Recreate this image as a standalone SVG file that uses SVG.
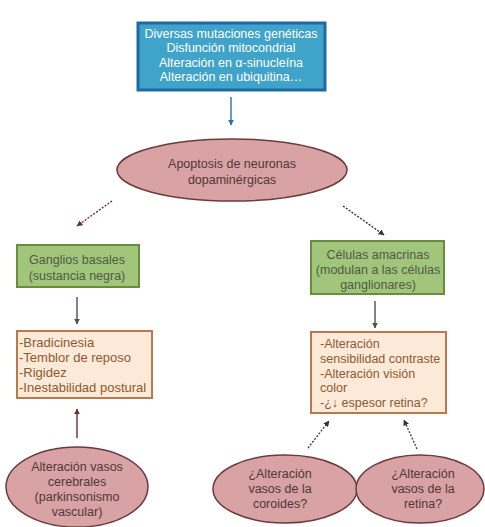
<svg xmlns="http://www.w3.org/2000/svg" width="485" height="527" viewBox="0 0 485 527">
<defs>
<style>
text{font-family:"Liberation Sans",Arial,sans-serif;font-size:12.5px}
.blue rect{fill:#40a3c9;stroke:#1f6aa5;stroke-width:3}
.blue text{fill:#ffffff;text-anchor:middle}
.pink ellipse{fill:#d9a2a5;stroke:#6b3b3b;stroke-width:1.5}
.pink text{fill:#4e3838;text-anchor:middle}
.green rect{fill:#a2c57c;stroke:#6b8c3e;stroke-width:2}
.green text{fill:#4f5a45;text-anchor:middle}
.orange rect{fill:#fde9d8;stroke:#b87a4a;stroke-width:2}
.orange text{fill:#8a5a30}
.c line{stroke-width:1.4;fill:none}
</style>
<marker id="ab" viewBox="0 0 10 10" refX="9" refY="5" markerWidth="6" markerHeight="6" orient="auto" markerUnits="userSpaceOnUse"><path d="M0,0L10,5L0,10z" fill="#2e6fb0"/></marker>
<marker id="ar" viewBox="0 0 10 10" refX="9" refY="5" markerWidth="6" markerHeight="6" orient="auto" markerUnits="userSpaceOnUse"><path d="M0,0L10,5L0,10z" fill="#6b2e2e"/></marker>
<marker id="ak" viewBox="0 0 10 10" refX="9" refY="5" markerWidth="6" markerHeight="6" orient="auto" markerUnits="userSpaceOnUse"><path d="M0,0L10,5L0,10z" fill="#333333"/></marker>
<marker id="ag" viewBox="0 0 10 10" refX="9" refY="5" markerWidth="6" markerHeight="6" orient="auto" markerUnits="userSpaceOnUse"><path d="M0,0L10,5L0,10z" fill="#4a5440"/></marker>
</defs>
<rect width="485" height="527" fill="#ffffff"/>

<g class="c" id="connectors">
<line x1="231" y1="97" x2="231" y2="125" stroke="#2e6fb0" marker-end="url(#ab)"/>
<line x1="112" y1="201" x2="77" y2="226" stroke="#6b2e2e" stroke-dasharray="2,1.5" marker-end="url(#ar)"/>
<line x1="343" y1="206" x2="384" y2="235" stroke="#333333" stroke-dasharray="2,1.5" marker-end="url(#ak)"/>
<line x1="77" y1="297" x2="77" y2="324" stroke="#4a5440" marker-end="url(#ag)"/>
<line x1="375" y1="301" x2="375" y2="328" stroke="#4a5440" marker-end="url(#ag)"/>
<line x1="77" y1="438" x2="77" y2="409" stroke="#6b2e2e" marker-end="url(#ar)"/>
<line x1="308" y1="448" x2="329" y2="421" stroke="#444444" stroke-dasharray="2,1.5" marker-end="url(#ak)"/>
<line x1="417" y1="449" x2="404" y2="420" stroke="#444444" stroke-dasharray="2,1.5" marker-end="url(#ak)"/>
</g>

<g id="causes" class="blue">
<rect x="138" y="23" width="187" height="67"/>
<text x="231" y="38">Diversas mutaciones genéticas</text>
<text x="231" y="52">Disfunción mitocondrial</text>
<text x="231" y="66.5">Alteración en α-sinucleína</text>
<text x="231" y="81">Alteración en ubiquitina…</text>
</g>

<g id="apoptosis" class="pink">
<ellipse cx="232" cy="170" rx="115" ry="31"/>
<text x="232" y="168">Apoptosis de neuronas</text>
<text x="232" y="184">dopaminérgicas</text>
</g>

<g id="ganglios" class="green">
<rect x="17" y="245" width="122" height="42"/>
<text x="77" y="263.5">Ganglios basales</text>
<text x="77" y="279.5">(sustancia negra)</text>
</g>

<g id="amacrinas" class="green">
<rect x="311" y="241" width="133" height="53"/>
<text x="378" y="258.5">Células amacrinas</text>
<text x="378" y="273.5">(modulan a las células</text>
<text x="378" y="288.5">ganglionares)</text>
</g>

<g id="sintomas-motores" class="orange">
<rect x="17" y="331" width="135" height="67"/>
<text x="19" y="347" style="font-size:13px">-Bradicinesia</text>
<text x="19" y="362" style="font-size:13px">-Temblor de reposo</text>
<text x="19" y="377" style="font-size:13px">-Rigidez</text>
<text x="19" y="392" style="font-size:13px">-Inestabilidad postural</text>
</g>

<g id="sintomas-visuales" class="orange">
<rect x="311" y="332" width="135" height="81"/>
<text x="320" y="347.5">-Alteración</text>
<text x="320" y="362.5">sensibilidad contraste</text>
<text x="320" y="377.5">-Alteración visión</text>
<text x="320" y="391.5">color</text>
<text x="320" y="406.5">-¿↓ espesor retina?</text>
</g>

<g id="vasos-cerebrales" class="pink">
<ellipse cx="77" cy="487" rx="71" ry="40"/>
<text x="77" y="470.5">Alteración vasos</text>
<text x="77" y="485.5">cerebrales</text>
<text x="77" y="500.5">(parkinsonismo</text>
<text x="77" y="516">vascular)</text>
</g>

<g id="vasos-coroides" class="pink">
<ellipse cx="285" cy="489" rx="72" ry="34"/>
<text x="280" y="477.5">¿Alteración</text>
<text x="280" y="492.5">vasos de la</text>
<text x="280" y="507.5">coroides?</text>
</g>

<g id="vasos-retina" class="pink">
<ellipse cx="420" cy="489" rx="64" ry="34"/>
<text x="423" y="477.5">¿Alteración</text>
<text x="423" y="492.5">vasos de la</text>
<text x="423" y="507.5">retina?</text>
</g>
</svg>
